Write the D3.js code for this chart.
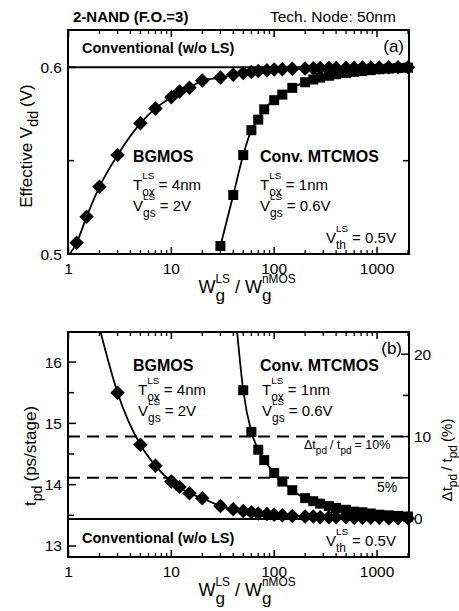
<!DOCTYPE html>
<html>
<head>
<meta charset="utf-8">
<title>2-NAND level shifter</title>
<script src="https://d3js.org/d3.v7.min.js"></script>
<style>
  body { margin: 0; background: #fff; }
  text { font-family: "Liberation Sans", Arial, Helvetica, sans-serif; fill: #000; }
</style>
</head>
<body>
<svg id="chart" width="459" height="611"></svg>
<script>
// ---- data ----
// (a) effective Vdd vs Wg(LS)/Wg(nMOS)
var bgX_a = [1.2, 1.5, 2, 3, 5, 7, 10, 12, 15, 20, 30, 40, 50, 60, 70, 85, 100, 120, 150, 200, 240, 280, 340, 400, 500, 600, 720, 870, 1050, 1300, 1600, 2000];
var bgV_a = [0.506, 0.520, 0.536, 0.553, 0.570, 0.578, 0.584, 0.587, 0.589, 0.593, 0.5945, 0.596, 0.597, 0.5975, 0.598, 0.5985, 0.5988, 0.599, 0.5992, 0.5994, 0.5995, 0.5996, 0.5997, 0.5997, 0.5998, 0.5998, 0.5999, 0.5999, 0.5999, 0.6, 0.6, 0.6];
var sqX_a = [30, 40, 50, 60, 70, 80, 100, 120, 150, 200, 240, 280, 340, 400, 500, 600, 720, 870, 1050, 1300, 1600, 2000];
var sqV_a = [0.5043, 0.5316, 0.553, 0.5663, 0.572, 0.5775, 0.5824, 0.5854, 0.589, 0.592, 0.5935, 0.5945, 0.5955, 0.5963, 0.597, 0.5976, 0.598, 0.5985, 0.599, 0.5993, 0.5996, 0.5998];
var convV = 0.6;

// (b) tpd vs Wg(LS)/Wg(nMOS)
var bgX_b = [3, 5, 7, 10, 12, 15, 20, 30, 40, 50, 60, 70, 85, 100, 120, 150, 200, 240, 280, 340, 400, 500, 600, 720, 870, 1050, 1300, 1600, 2000];
var bgT_b = [15.50, 14.65, 14.31, 14.05, 13.96, 13.86, 13.78, 13.65, 13.60, 13.57, 13.55, 13.53, 13.52, 13.51, 13.50, 13.49, 13.48, 13.48, 13.47, 13.47, 13.47, 13.47, 13.46, 13.46, 13.46, 13.46, 13.45, 13.45, 13.45];
var sqX_b = [50, 60, 70, 80, 100, 120, 150, 200, 240, 280, 340, 400, 500, 600, 720, 870, 1050, 1300, 1600, 2000];
var sqT_b = [15.54, 14.86, 14.57, 14.40, 14.19, 14.05, 13.91, 13.78, 13.73, 13.69, 13.65, 13.62, 13.59, 13.56, 13.55, 13.53, 13.51, 13.50, 13.49, 13.48];
// fitted curves continue above the frame
var bgLineStart_b = [2, 16.56];
var sqLineStart_b = [43, 16.6];
var convT = 13.44;
var pctLines = [10, 5];

var xTicks = [1, 10, 100, 1000];
var yTicks_a = [0.5, 0.6], yMinor_a = [0.55];
var yTicks_b = [13, 14, 15, 16], yMinor_b = [13.5, 14.5, 15.5];
var rTicks = [0, 10, 20], rMinor = [5, 15];

var svg = d3.select("#chart");

var x = d3.scaleLog().domain([1, 2000]).range([68.5, 408]);
var L = 68, R = 409;

// rich text: strings, {gap}, or {sup, sub}
function rich(g, x0, y0, parts, size, weight, opt) {
    opt = opt || {};
    var supUp = opt.supUp || 0.72, subDown = opt.subDown || 0.4;
    var supSize = opt.supSize || 0.66, subSize = opt.subSize || 0.8;
    var cx = x0;
    parts.forEach(function (p) {
        if (typeof p === "string") {
            var t = g.append("text").attr("x", cx).attr("y", y0).attr("font-size", size)
                .attr("font-weight", weight || "normal").text(p);
            cx += t.node().getComputedTextLength();
        } else if (p.gap) {
            cx += p.gap;
        } else {
            var w = 0;
            if (p.sup) {
                var a = g.append("text").attr("x", cx).attr("y", y0 - size * supUp)
                    .attr("font-size", size * supSize).text(p.sup);
                w = Math.max(w, a.node().getComputedTextLength());
            }
            if (p.sub) {
                var b = g.append("text").attr("x", cx).attr("y", y0 + size * subDown)
                    .attr("font-size", size * subSize).text(p.sub);
                w = Math.max(w, b.node().getComputedTextLength());
            }
            cx += w;
        }
    });
    return cx;
}

function centered(g, parts, size, opt) {
    var inner = g.append("g");
    var w = rich(inner, 0, 0, parts, size, "normal", opt);
    inner.attr("transform", "translate(" + (-w / 2) + ",0)");
}

function frame(top, bottom, y, yTicks, yMinor, showRight) {
    var g = svg.append("g");
    // x ticks on bottom and top, inward
    var minors = [];
    [1, 10, 100, 1000].forEach(function (d) {
        for (var k = 2; k <= 9; k++) if (d * k <= 2000) minors.push(d * k);
    });
    [[bottom, -1], [top, 1]].forEach(function (s) {
        xTicks.forEach(function (t) {
            g.append("line").attr("x1", x(t)).attr("x2", x(t)).attr("y1", s[0]).attr("y2", s[0] + s[1] * 7)
                .attr("stroke", "#000").attr("stroke-width", 1.5);
        });
        minors.forEach(function (t) {
            g.append("line").attr("x1", x(t)).attr("x2", x(t)).attr("y1", s[0]).attr("y2", s[0] + s[1] * 4)
                .attr("stroke", "#000").attr("stroke-width", 1.3);
        });
    });
    var sides = showRight ? [[L, 1], [R, -1]] : [[L, 1]];
    sides.forEach(function (s) {
        yTicks.forEach(function (t) {
            g.append("line").attr("x1", s[0]).attr("x2", s[0] + s[1] * 8).attr("y1", y(t)).attr("y2", y(t))
                .attr("stroke", "#000").attr("stroke-width", 1.5);
        });
        yMinor.forEach(function (t) {
            g.append("line").attr("x1", s[0]).attr("x2", s[0] + s[1] * 6).attr("y1", y(t)).attr("y2", y(t))
                .attr("stroke", "#000").attr("stroke-width", 1.5);
        });
    });
    g.append("rect").attr("x", L).attr("y", top).attr("width", R - L).attr("height", bottom - top)
        .attr("fill", "none").attr("stroke", "#000").attr("stroke-width", 2);
    // labels
    xTicks.forEach(function (t) {
        g.append("text").attr("x", x(t)).attr("y", bottom + 20).attr("text-anchor", "middle")
            .attr("font-size", 15.5).text(t);
    });
    yTicks.forEach(function (t) {
        g.append("text").attr("x", L - 6).attr("y", y(t) + 5.5).attr("text-anchor", "end")
            .attr("font-size", 15.5).text(t);
    });
    return g;
}

function series(g, xs, ys, y, shape, clipId, lineStart) {
    var pts = xs.map(function (d, i) { return [d, ys[i]]; });
    var linePts = lineStart ? [lineStart].concat(pts) : pts;
    var line = d3.line().x(function (d) { return x(d[0]); }).y(function (d) { return y(d[1]); })
        .curve(d3.curveMonotoneX);
    g.append("path").attr("d", line(linePts)).attr("fill", "none").attr("stroke", "#000")
        .attr("stroke-width", 1.8).attr("clip-path", "url(#" + clipId + ")");
    var sym = d3.symbol().type(d3.symbolSquare).size(shape === "diamond" ? 105 : 100);
    g.selectAll(null).data(pts).enter().append("path")
        .attr("d", sym)
        .attr("transform", function (d) {
            return "translate(" + x(d[0]) + "," + y(d[1]) + ")" + (shape === "diamond" ? " rotate(45)" : "");
        })
        .attr("fill", "#000");
}

function addClip(id, top, bottom) {
    svg.append("clipPath").attr("id", id).append("rect")
        .attr("x", L).attr("y", top).attr("width", R - L).attr("height", bottom - top);
}

var titleOpt = { supUp: 0.55, subDown: 0.42, supSize: 0.66, subSize: 0.95 };

// ================= panel (a) =================
var ya = d3.scaleLinear().domain([0.5, 0.62]).range([254, 30]);
addClip("clipA", 30, 254);
var ga = frame(30, 254, ya, yTicks_a, yMinor_a, true);
ga.append("line").attr("x1", L).attr("x2", R).attr("y1", ya(convV)).attr("y2", ya(convV))
    .attr("stroke", "#000").attr("stroke-width", 2);
series(ga, bgX_a, bgV_a, ya, "diamond", "clipA", [1, 0.499]);
series(ga, sqX_a, sqV_a, ya, "square", "clipA");

ga.append("text").attr("x", 73).attr("y", 22).attr("font-size", 15).attr("font-weight", "bold").text("2-NAND (F.O.=3)");
ga.append("text").attr("x", 270).attr("y", 22).attr("font-size", 15.5).text("Tech. Node: 50nm");
ga.append("text").attr("x", 82).attr("y", 53).attr("font-size", 14.5).attr("font-weight", "bold").text("Conventional (w/o LS)");
ga.append("text").attr("x", 404).attr("y", 52).attr("text-anchor", "end").attr("font-size", 17).text("(a)");
ga.append("text").attr("x", 133).attr("y", 162).attr("font-size", 16).attr("font-weight", "bold").text("BGMOS");
ga.append("text").attr("x", 260).attr("y", 162).attr("font-size", 16).attr("font-weight", "bold").text("Conv. MTCMOS");
rich(ga, 133, 190, ["T", { sup: "LS", sub: "ox" }, { gap: 4 }, "= 4nm"], 15);
rich(ga, 133, 211, ["V", { sup: "LS", sub: "gs" }, { gap: 4 }, "= 2V"], 15);
rich(ga, 260, 190, ["T", { sup: "LS", sub: "ox" }, { gap: 4 }, "= 1nm"], 15);
rich(ga, 260, 211, ["V", { sup: "LS", sub: "gs" }, { gap: 4 }, "= 0.6V"], 15);
rich(ga, 326, 243, ["V", { sup: "LS", sub: "th" }, { gap: 4 }, "= 0.5V"], 15);

var xta = ga.append("g").attr("transform", "translate(247,293)");
centered(xta, ["W", { sup: "LS", sub: "g" }, { gap: 5 }, "/", { gap: 5 }, "W", { sup: "nMOS", sub: "g" }], 18, titleOpt);
var yta = ga.append("g").attr("transform", "translate(32,146) rotate(-90)");
centered(yta, ["Effective V", { sub: "dd" }, { gap: 4 }, "(V)"], 17, { subSize: 0.84, subDown: 0.36 });

// ================= panel (b) =================
var yb = d3.scaleLinear().domain([12.82, 16.49]).range([557, 332]);
var yr = d3.scaleLinear().domain(yb.domain().map(function (t) { return (t / convT - 1) * 100; })).range(yb.range());
addClip("clipB", 332, 557);
var gb = frame(332, 557, yb, yTicks_b, yMinor_b, false);
// right axis (percent)
rTicks.forEach(function (t) {
    gb.append("line").attr("x1", R).attr("x2", R - 8).attr("y1", yr(t)).attr("y2", yr(t)).attr("stroke", "#000").attr("stroke-width", 1.5);
    gb.append("text").attr("x", R + 5).attr("y", yr(t) + 5.5).attr("font-size", 15.5).text(t);
});
rMinor.forEach(function (t) {
    gb.append("line").attr("x1", R).attr("x2", R - 6).attr("y1", yr(t)).attr("y2", yr(t)).attr("stroke", "#000").attr("stroke-width", 1.5);
});
pctLines.forEach(function (p) {
    gb.append("line").attr("x1", L).attr("x2", R).attr("y1", yr(p)).attr("y2", yr(p))
        .attr("stroke", "#000").attr("stroke-width", 2).attr("stroke-dasharray", "12,7");
});
gb.append("line").attr("x1", L).attr("x2", R).attr("y1", yb(convT)).attr("y2", yb(convT))
    .attr("stroke", "#000").attr("stroke-width", 2);
series(gb, bgX_b, bgT_b, yb, "diamond", "clipB", bgLineStart_b);
series(gb, sqX_b, sqT_b, yb, "square", "clipB", sqLineStart_b);

gb.append("text").attr("x", 402).attr("y", 354).attr("text-anchor", "end").attr("font-size", 17).text("(b)");
gb.append("text").attr("x", 133).attr("y", 371).attr("font-size", 16).attr("font-weight", "bold").text("BGMOS");
gb.append("text").attr("x", 260).attr("y", 371).attr("font-size", 16).attr("font-weight", "bold").text("Conv. MTCMOS");
rich(gb, 138, 395, ["T", { sup: "LS", sub: "ox" }, { gap: 4 }, "= 4nm"], 15);
rich(gb, 138, 416, ["V", { sup: "LS", sub: "gs" }, { gap: 4 }, "= 2V"], 15);
rich(gb, 262, 395, ["T", { sup: "LS", sub: "ox" }, { gap: 4 }, "= 1nm"], 15);
rich(gb, 262, 416, ["V", { sup: "LS", sub: "gs" }, { gap: 4 }, "= 0.6V"], 15);
rich(gb, 304, 449, ["\u0394t", { sub: "pd" }, { gap: 3 }, "/ t", { sub: "pd" }, { gap: 3 }, "= " + pctLines[0] + "%"], 12.5);
gb.append("text").attr("x", 377).attr("y", 492).attr("font-size", 14).text(pctLines[1] + "%");
gb.append("text").attr("x", 82).attr("y", 543).attr("font-size", 14.5).attr("font-weight", "bold").text("Conventional (w/o LS)");
rich(gb, 326, 546, ["V", { sup: "LS", sub: "th" }, { gap: 4 }, "= 0.5V"], 15);

var xtb = gb.append("g").attr("transform", "translate(247,596)");
centered(xtb, ["W", { sup: "LS", sub: "g" }, { gap: 5 }, "/", { gap: 5 }, "W", { sup: "nMOS", sub: "g" }], 18, titleOpt);
var ytb = gb.append("g").attr("transform", "translate(36,456) rotate(-90)");
centered(ytb, ["t", { sub: "pd" }, { gap: 4 }, "(ps/stage)"], 17, { subSize: 0.84, subDown: 0.36 });
var yrb = gb.append("g").attr("transform", "translate(452,460) rotate(-90)");
centered(yrb, ["\u0394t", { sub: "pd" }, { gap: 3 }, "/ t", { sub: "pd" }, { gap: 3 }, "(%)"], 15, { subSize: 0.8, subDown: 0.3 });
</script>
</body>
</html>
